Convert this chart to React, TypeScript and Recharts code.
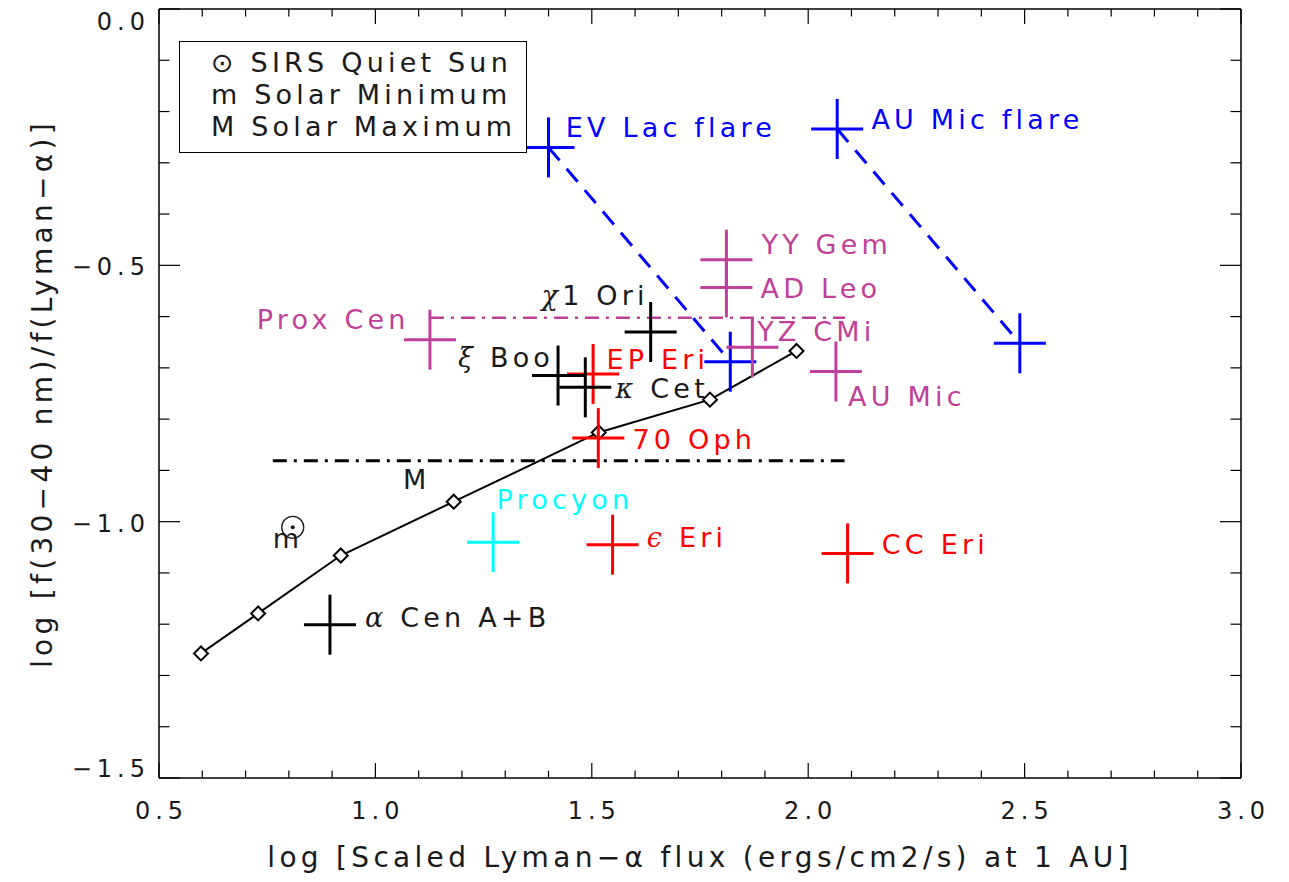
import React from 'react';
import {
  ComposedChart,
  Scatter,
  XAxis,
  YAxis,
  ReferenceLine,
  Legend,
  Label,
} from 'recharts';

// tick values (all ticks, majors get labels)
const xTicks = [0.5, 0.6, 0.7, 0.8, 0.9, 1.0, 1.1, 1.2, 1.3, 1.4, 1.5, 1.6, 1.7, 1.8, 1.9, 2.0, 2.1, 2.2, 2.3, 2.4, 2.5, 2.6, 2.7, 2.8, 2.9, 3.0];
const yTicks = [0, -0.1, -0.2, -0.3, -0.4, -0.5, -0.6, -0.7, -0.8, -0.9, -1.0, -1.1, -1.2, -1.3, -1.4, -1.5];

// solar relation (black diamonds)
const modelCurve = [
  { x: 0.597, y: -1.257 },
  { x: 0.729, y: -1.179 },
  { x: 0.92, y: -1.066 },
  { x: 1.181, y: -0.961 },
  { x: 1.516, y: -0.826 },
  { x: 1.773, y: -0.762 },
  { x: 1.973, y: -0.667 },
];

// stars, grouped by plot colour
const blueStars = [
  { name: 'EV Lac flare', x: 1.4, y: -0.27 },
  { name: 'EV Lac', x: 1.82, y: -0.688 },
  { name: 'AU Mic flare', x: 2.067, y: -0.234 },
  { name: 'AU Mic flare (2)', x: 2.489, y: -0.652 },
];
const magentaStars = [
  { name: 'YY Gem', x: 1.811, y: -0.489 },
  { name: 'AD Leo', x: 1.811, y: -0.543 },
  { name: 'YZ CMi', x: 1.871, y: -0.66 },
  { name: 'AU Mic', x: 2.064, y: -0.707 },
  { name: 'Prox Cen', x: 1.126, y: -0.645 },
];
const redStars = [
  { name: 'EP Eri', x: 1.503, y: -0.712 },
  { name: '70 Oph', x: 1.515, y: -0.837 },
  { name: 'eps Eri', x: 1.548, y: -1.045 },
  { name: 'CC Eri', x: 2.091, y: -1.062 },
];
const blackStars = [
  { name: 'chi1 Ori', x: 1.636, y: -0.63 },
  { name: 'xi Boo', x: 1.422, y: -0.715 },
  { name: 'kap Cet', x: 1.485, y: -0.738 },
  { name: 'alf Cen A+B', x: 0.895, y: -1.201 },
];
const cyanStars = [{ name: 'Procyon', x: 1.272, y: -1.04 }];
const quietSun = [{ x: 0.809, y: -1.011 }];

// connecting / level lines
const evLacLine = [blueStars[0], blueStars[1]];
const auMicLine = [blueStars[2], blueStars[3]];
const solarMaxLevel = [{ x: 0.763, y: -0.881 }, { x: 2.084, y: -0.881 }];
const dMeLevel = [{ x: 1.126, y: -0.602 }, { x: 2.085, y: -0.602 }];

// text annotations (data coords of text start)
const blueLabels = [
  { text: 'EV Lac flare', x: 1.44, y: -0.231 },
  { text: 'AU Mic flare', x: 2.146, y: -0.215 },
];
const magentaLabels = [
  { text: 'YY Gem', x: 1.892, y: -0.46 },
  { text: 'AD Leo', x: 1.89, y: -0.5445 },
  { text: 'YZ CMi', x: 1.882, y: -0.629 },
  { text: 'AU Mic', x: 2.092, y: -0.756 },
  { text: 'Prox Cen', x: 0.726, y: -0.606 },
];
const redLabels = [
  { text: 'EP Eri', x: 1.534, y: -0.684 },
  { text: '70 Oph', x: 1.594, y: -0.84 },
  { text: 'ϵ Eri', x: 1.627, y: -1.029 },
  { text: 'CC Eri', x: 2.17, y: -1.045 },
];
const blackLabels = [
  { text: 'χ1 Ori', x: 1.384, y: -0.5575 },
  { text: 'ξ Boo', x: 1.191, y: -0.679 },
  { text: 'κ Cet', x: 1.555, y: -0.739 },
  { text: 'α Cen A+B', x: 0.976, y: -1.185 },
  { text: 'm', x: 0.763, y: -1.033 },
  { text: 'M', x: 1.0635, y: -0.918 },
];
const cyanLabels = [{ text: 'Procyon', x: 1.28, y: -0.957 }];

const legendLines = ['⊙ SIRS Quiet Sun', 'm Solar Minimum', 'M Solar Maximum'];

const FONT = "'DejaVu Sans', sans-serif";
const INK = '#1a1a1a';
const BLUE = '#0000ff';
const MAGENTA = '#bf3f9a';
const RED = '#ff0000';
const CYAN = '#00ffff';

const isMajor = (v: number) => Math.abs(v * 2 - Math.round(v * 2)) < 1e-6;
const fmt = (v: number) => v.toFixed(1).replace('-', '\u2212');

const tickText = { fontFamily: FONT, fontSize: 24, letterSpacing: 5, fill: INK };

const BottomTick = ({ x, y, payload }: any) => {
  const major = isMajor(payload.value);
  return (
    <g>
      <line x1={x} x2={x} y1={y} y2={y - (major ? 15 : 7.5)} stroke="#000" strokeWidth={1.2} />
      {major && (
        <text x={x + 2.5} y={y + 33} textAnchor="middle" dominantBaseline="central" {...tickText}>
          {fmt(payload.value)}
        </text>
      )}
    </g>
  );
};

const TopTick = ({ x, y, payload }: any) => (
  <line x1={x} x2={x} y1={y} y2={y + (isMajor(payload.value) ? 15 : 7.5)} stroke="#000" strokeWidth={1.2} />
);

// end labels are kept inside the axis range, like IDL does
const yLabelShift = (v: number) => (v === 0 ? 13 : v === -1.5 ? -9 : 2);

const LeftTick = ({ x, y, payload }: any) => {
  const major = isMajor(payload.value);
  return (
    <g>
      <line x1={x} x2={x + (major ? 21 : 10.5)} y1={y} y2={y} stroke="#000" strokeWidth={1.2} />
      {major && (
        <text
          x={x - 14 + 5}
          y={y + yLabelShift(payload.value)}
          textAnchor="end"
          dominantBaseline="central"
          {...tickText}
        >
          {fmt(payload.value)}
        </text>
      )}
    </g>
  );
};

const RightTick = ({ x, y, payload }: any) => (
  <line x1={x} x2={x - (isMajor(payload.value) ? 21 : 10.5)} y1={y} y2={y} stroke="#000" strokeWidth={1.2} />
);

const crossShape = (color: string) => (p: any) => (
  <g stroke={color} strokeWidth={3}>
    <line x1={p.cx - 26} x2={p.cx + 26} y1={p.cy} y2={p.cy} />
    <line x1={p.cx} x2={p.cx} y1={p.cy - 30} y2={p.cy + 30} />
  </g>
);

const diamondShape = (p: any) => (
  <path
    d={`M${p.cx},${p.cy - 7} L${p.cx + 7},${p.cy} L${p.cx},${p.cy + 7} L${p.cx - 7},${p.cy} Z`}
    fill="#fff"
    stroke="#000"
    strokeWidth={2}
  />
);

const sunShape = (p: any) => (
  <g>
    <circle cx={p.cx} cy={p.cy} r={11} fill="none" stroke={INK} strokeWidth={1.3} />
    <circle cx={p.cx} cy={p.cy} r={2} fill={INK} />
  </g>
);

const GREEK = /^[α-ωϵ]/;

const labelShape = (color: string) => (p: any) => {
  const t: string = p.payload.text;
  const greek = GREEK.test(t);
  return (
    <text
      x={p.cx}
      y={p.cy}
      dominantBaseline="central"
      fill={color}
      fontFamily={FONT}
      fontSize={27}
      letterSpacing={4.2}
    >
      {greek ? (
        <>
          <tspan fontFamily="'DejaVu Serif', serif" fontStyle="italic">{t[0]}</tspan>
          <tspan>{t.slice(1)}</tspan>
        </>
      ) : (
        t
      )}
    </text>
  );
};

const LegendBox = () => (
  <div
    style={{
      boxSizing: 'border-box',
      width: 348,
      height: 112,
      border: '1.5px solid #000',
      background: '#fff',
      padding: '5px 0 0 31px',
      fontFamily: FONT,
      fontSize: 27,
      letterSpacing: 4.2,
      lineHeight: '32px',
      color: INK,
      whiteSpace: 'nowrap',
    }}
  >
    {legendLines.map((l) => (
      <div key={l}>{l}</div>
    ))}
  </div>
);

const XTitle = (p: any) => {
  const { x, y, width } = p.viewBox;
  return (
    <text
      x={x + width / 2}
      y={y + 79}
      textAnchor="middle"
      dominantBaseline="central"
      fontFamily={FONT}
      fontSize={28}
      letterSpacing={4.3}
      fill={INK}
    >
      log [Scaled Lyman−α flux (ergs/cm2/s) at 1 AU]
    </text>
  );
};

const YTitle = (p: any) => {
  const { x, y, height } = p.viewBox;
  const cx = x - 116;
  const cy = y + height / 2;
  return (
    <text
      x={cx}
      y={cy}
      transform={`rotate(-90 ${cx} ${cy})`}
      textAnchor="middle"
      dominantBaseline="central"
      fontFamily={FONT}
      fontSize={28}
      letterSpacing={4.3}
      fill={INK}
    >
      log [f(30−40 nm)/f(Lyman−α)]
    </text>
  );
};

const frame = { stroke: '#000', strokeWidth: 1.5 };

export default function App() {
  return (
    <div style={{ position: 'absolute', left: 0, top: 0, background: '#fff' }}>
      <ComposedChart width={1289} height={882} margin={{ top: 8, right: 47, bottom: 103, left: 158 }}>
        <XAxis
          dataKey="x"
          type="number"
          domain={[0.5, 3]}
          ticks={xTicks}
          interval={0}
          allowDataOverflow
          height={1}
          tickSize={0}
          tickMargin={0}
          tickLine={false}
          tick={(p: any) => <BottomTick {...p} />}
          axisLine={frame}
        >
          <Label content={XTitle} />
        </XAxis>
        <XAxis
          xAxisId="top"
          orientation="top"
          dataKey="x"
          type="number"
          domain={[0.5, 3]}
          ticks={xTicks}
          interval={0}
          allowDataOverflow
          height={1}
          tickSize={0}
          tickMargin={0}
          tickLine={false}
          tick={(p: any) => <TopTick {...p} />}
          axisLine={frame}
        />
        <YAxis
          dataKey="y"
          type="number"
          domain={[-1.5, 0]}
          ticks={yTicks}
          interval={0}
          allowDataOverflow
          width={1}
          tickSize={0}
          tickMargin={0}
          tickLine={false}
          tick={(p: any) => <LeftTick {...p} />}
          axisLine={frame}
        >
          <Label content={YTitle} />
        </YAxis>
        <YAxis
          yAxisId="right"
          orientation="right"
          dataKey="y"
          type="number"
          domain={[-1.5, 0]}
          ticks={yTicks}
          interval={0}
          allowDataOverflow
          width={1}
          tickSize={0}
          tickMargin={0}
          tickLine={false}
          tick={(p: any) => <RightTick {...p} />}
          axisLine={frame}
        />

        <ReferenceLine
          segment={solarMaxLevel}
          stroke="#000"
          strokeWidth={3}
          strokeDasharray="14 7 3 7"
          ifOverflow="visible"
        />
        <ReferenceLine
          segment={dMeLevel}
          stroke={MAGENTA}
          strokeWidth={2.5}
          strokeDasharray="14 7 3 7"
          ifOverflow="visible"
        />
        <ReferenceLine
          segment={evLacLine}
          stroke={BLUE}
          strokeWidth={3}
          strokeDasharray="17 11"
          ifOverflow="visible"
        />
        <ReferenceLine
          segment={auMicLine}
          stroke={BLUE}
          strokeWidth={3}
          strokeDasharray="17 11"
          ifOverflow="visible"
        />

        <Scatter
          data={modelCurve}
          shape={diamondShape}
          line={{ stroke: '#000', strokeWidth: 2 }}
          isAnimationActive={false}
          legendType="none"
        />
        <Scatter data={blueStars} shape={crossShape(BLUE)} isAnimationActive={false} legendType="none" />
        <Scatter data={magentaStars} shape={crossShape(MAGENTA)} isAnimationActive={false} legendType="none" />
        <Scatter data={redStars} shape={crossShape(RED)} isAnimationActive={false} legendType="none" />
        <Scatter data={blackStars} shape={crossShape('#000')} isAnimationActive={false} legendType="none" />
        <Scatter data={cyanStars} shape={crossShape(CYAN)} isAnimationActive={false} legendType="none" />
        <Scatter data={quietSun} shape={sunShape} isAnimationActive={false} legendType="none" />

        <Scatter data={blueLabels} shape={labelShape(BLUE)} isAnimationActive={false} legendType="none" />
        <Scatter data={magentaLabels} shape={labelShape(MAGENTA)} isAnimationActive={false} legendType="none" />
        <Scatter data={redLabels} shape={labelShape(RED)} isAnimationActive={false} legendType="none" />
        <Scatter data={blackLabels} shape={labelShape(INK)} isAnimationActive={false} legendType="none" />
        <Scatter data={cyanLabels} shape={labelShape(CYAN)} isAnimationActive={false} legendType="none" />

        <Legend
          layout="vertical"
          align="center"
          verticalAlign="middle"
          wrapperStyle={{ left: 179, top: 41, width: 348, height: 112 }}
          content={() => <LegendBox />}
        />
      </ComposedChart>
    </div>
  );
}
